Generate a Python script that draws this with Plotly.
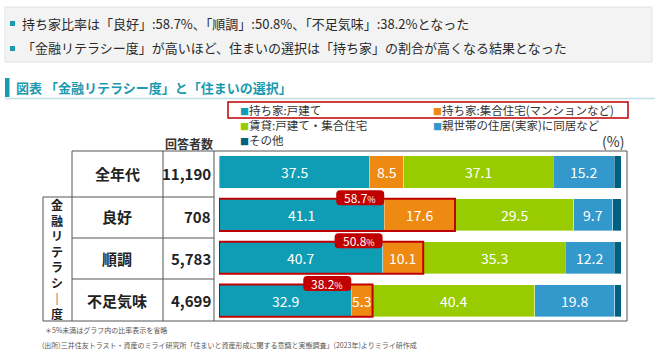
import plotly.graph_objects as go

W, H = 660, 359

# ---- data ----
categories = ["全年代", "良好", "順調", "不足気味"]
respondents = ["11,190", "708", "5,783", "4,699"]
series_names = ["持ち家:戸建て", "持ち家:集合住宅(マンションなど)", "賃貸:戸建て・集合住宅",
                "親世帯の住居(実家)に同居など", "その他"]
detached = [37.5, 41.1, 40.7, 32.9]
condo = [8.5, 17.6, 10.1, 5.3]
rental = [37.1, 29.5, 35.3, 40.4]
parents = [15.2, 9.7, 12.2, 19.8]
other = [1.7, 2.1, 1.7, 1.6]
owner_rate = [None, 58.7, 50.8, 38.2]
bullets = ["持ち家比率は「良好」:58.7%、「順調」:50.8%、「不足気味」:38.2%となった",
           "「金融リテラシー度」が高いほど、住まいの選択は「持ち家」の割合が高くなる結果となった"]
title_text = "図表 「金融リテラシー度」と「住まいの選択」"
group_label = "金融リテラシー度"
note1 = "＊5%未満はグラフ内の比率表示を省略"
note2 = "(出所)三井住友トラスト・資産のミライ研究所「住まいと資産形成に関する意識と実態調査」(2023年)よりミライ研作成"

colors = ["#0F9DB5", "#EE8A12", "#99CC00", "#3399CC", "#006080"]
RED = "#C00000"
TEAL = "#1A9AB0"
FONT = "Noto Sans CJK JP"

series = [detached, condo, rental, parents, other]
ypos = list(range(len(categories)))


def px(x):
    return x / W


def py(y):
    return 1 - y / H


fig = go.Figure()
for name, vals, col in zip(series_names, series, colors):
    fig.add_trace(go.Bar(
        y=ypos, x=vals, name=name, orientation="h",
        marker=dict(color=col, line=dict(width=0.6, color="rgba(255,255,255,0.6)")),
        hoverinfo="x+name", showlegend=False))

annotations = []
shapes = []


def text(x, y, t, size, color="#333333", xanchor="center", bold=False, align="center"):
    annotations.append(dict(x=px(x), y=py(y), xref="paper", yref="paper", xanchor=xanchor,
                            yanchor="middle", showarrow=False, align=align,
                            text=f"<b>{t}</b>" if bold else t,
                            font=dict(size=size, color=color, family=FONT)))


# value labels (>=5%)
for i in ypos:
    cum = 0
    for vals in series:
        v = vals[i]
        if v >= 5:
            annotations.append(dict(x=cum + v / 2, y=i, xref="x", yref="y", text=f"{v:.1f}",
                                    xanchor="center", yanchor="middle",
                                    showarrow=False, font=dict(color="white", size=14, family=FONT)))
        cum += v

# owner boxes + badges
BX = 402 / 100  # px per unit
BY = 42.85      # px per row
for i in ypos:
    r = owner_rate[i]
    if r is None:
        continue
    shapes.append(dict(type="rect", xref="x", yref="y", x0=0, x1=detached[i] + condo[i],
                       y0=i - 0.375, y1=i + 0.375, line=dict(color=RED, width=2), layer="above"))
    w = 48 / BX
    h = 15 / BY
    cx = detached[i] - w / 2
    cy = i - 0.375 - 1 / BY
    rx, ry = 4 / BX, 4 / BY
    x0, x1, y0, y1 = cx - w / 2, cx + w / 2, cy - h / 2, cy + h / 2
    path = (f"M {x0+rx},{y0} L {x1-rx},{y0} Q {x1},{y0} {x1},{y0+ry} L {x1},{y1-ry} "
            f"Q {x1},{y1} {x1-rx},{y1} L {x0+rx},{y1} Q {x0},{y1} {x0},{y1-ry} "
            f"L {x0},{y0+ry} Q {x0},{y0} {x0+rx},{y0} Z")
    shapes.append(dict(type="path", xref="x", yref="y", path=path, fillcolor=RED,
                       line=dict(width=0), layer="above"))
    annotations.append(dict(x=cx, y=cy, xref="x", yref="y", showarrow=False,
                            xanchor="center", yanchor="middle",
                            text=f"{r:.1f}<span style='font-size:9px'>%</span>",
                            font=dict(color="white", size=12, family=FONT)))

# top summary box
shapes.append(dict(type="rect", xref="paper", yref="paper", x0=px(5), x1=px(652), y0=py(62), y1=py(7),
                   fillcolor="#F3F3F3", line=dict(color="#E2E2E2", width=1), layer="below"))
for k, t in enumerate(bullets):
    yy = 23 + k * 25
    shapes.append(dict(type="rect", xref="paper", yref="paper", x0=px(10), x1=px(15), y0=py(yy + 3),
                       y1=py(yy - 2), fillcolor=TEAL, line=dict(width=0)))
    text(20, yy, t, 13, "#2A2A2A", "left")

# title
shapes.append(dict(type="rect", xref="paper", yref="paper", x0=px(5), x1=px(9.5), y0=py(97), y1=py(78),
                   fillcolor=TEAL, line=dict(width=0)))
shapes.append(dict(type="line", xref="paper", yref="paper", x0=px(5), x1=px(655), y0=py(98.5), y1=py(98.5),
                   line=dict(color="#BFE0E8", width=1.5)))
text(14, 87, title_text, 13, TEAL, "left", bold=True)

# legend: two columns, one text block each
LEG_SIZE = 11.5
line_h = LEG_SIZE * 1.3
first_row = 110.5


def leg_item(name, col):
    return f"<span style='color:{col};font-size:9px'>■</span>{name}"


col1 = [0, 2, 4]
col2 = [1, 3]
for idx_list, lx in ((col1, 238), (col2, 431)):
    block = "<br>".join(leg_item(series_names[j], colors[j]) for j in idx_list)
    cy = first_row + line_h * (len(idx_list) - 1) / 2
    text(lx, cy, block, LEG_SIZE, "#333333", "left", align="left")

shapes.append(dict(type="rect", xref="paper", yref="paper", x0=px(228), x1=px(628), y0=py(118), y1=py(102),
                   line=dict(color=RED, width=1.5)))
text(626, 141, "(%)", 14, "#333333", "right")
text(189, 143, "回答者数", 12, "#333333", bold=True)

# table lines
LC = dict(color="#555555", width=1)


def hline(y, xa, xb):
    shapes.append(dict(type="line", xref="paper", yref="paper", x0=px(xa), x1=px(xb), y0=py(y), y1=py(y), line=LC))


def vline(x, ya, yb):
    shapes.append(dict(type="line", xref="paper", yref="paper", x0=px(x), x1=px(x), y0=py(ya), y1=py(yb), line=LC))


hline(151, 72, 627)
hline(197, 43, 214)
hline(238, 72, 214)
hline(279, 72, 214)
hline(321, 43, 627)
vline(43, 197, 321)
vline(72, 151, 321)
vline(163, 151, 321)
vline(214, 151, 321)
vline(627, 151, 321)

row_px = [173, 216, 258, 300]
for cat, n, yy in zip(categories, respondents, row_px):
    text(117, yy, cat, 15, "#222222", bold=True)
    text(212.5, yy, n, 15, "#222222", "right", bold=True)

# vertical group label (one character per line)
vert = "<br>".join("｜" if ch == "ー" else ch for ch in group_label)
text(57, 259, vert, 12, "#222222", bold=True)

# notes
text(43, 330, note1, 7, "#555555", "left")
text(40, 345, note2, 7, "#555555", "left")

fig.update_layout(
    width=W, height=H, margin=dict(l=0, r=0, t=0, b=0),
    paper_bgcolor="white", plot_bgcolor="white",
    barmode="stack", bargap=0.25,
    xaxis=dict(domain=[px(219), px(621)], range=[0, 100], visible=False, fixedrange=True),
    yaxis=dict(domain=[py(322), py(150.6)], range=[3.5, -0.5], visible=False, fixedrange=True),
    shapes=shapes, annotations=annotations,
    font=dict(family=FONT),
)

fig.write_html("out.html", config={"displayModeBar": False},
               post_script="document.body.style.margin='0px';")
